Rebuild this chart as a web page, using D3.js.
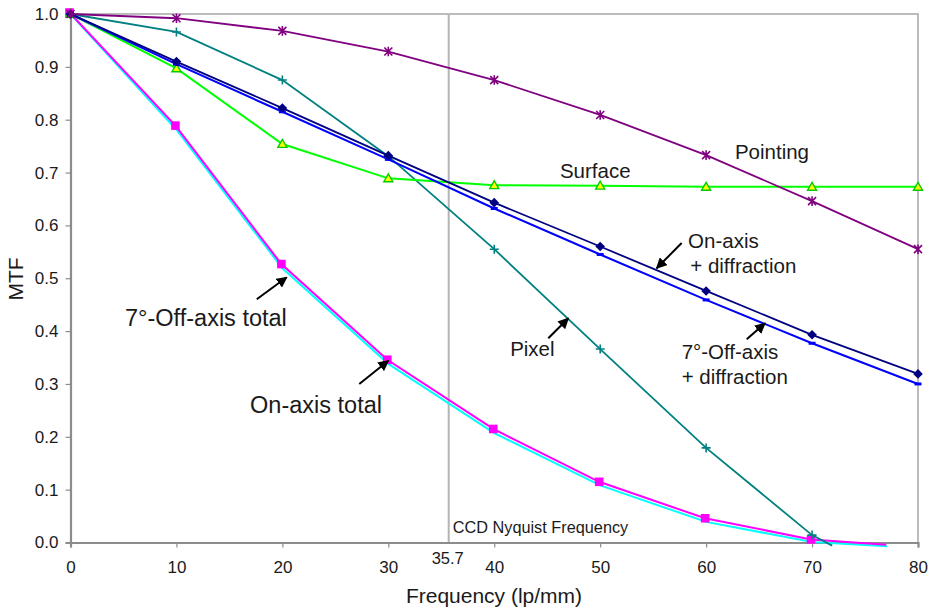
<!DOCTYPE html>
<html>
<head>
<meta charset="utf-8">
<script src="https://cdn.jsdelivr.net/npm/d3@7"></script>
<style>
  body { margin: 0; background: #fff; }
  text { font-family: "Liberation Sans", Arial, sans-serif; fill: #1a1a1a; }
</style>
</head>
<body>
<script>
// frequencies (lp/mm)
const freq = [0, 10, 20, 30, 40, 50, 60, 70, 80];

// MTF values
const pointing   = [1.0, 0.992, 0.968, 0.929, 0.875, 0.809, 0.733, 0.646, 0.555];
const surface    = [1.0, 0.897, 0.754, 0.689, 0.676, 0.675, 0.673, 0.673, 0.673];
const pixel      = [1.0, 0.966, 0.875, 0.731, 0.555, 0.366, 0.179, 0.014];
const onAxisDiff = [1.0, 0.910, 0.822, 0.732, 0.643, 0.560, 0.476, 0.393, 0.319];
const offAxisDiff= [1.0, 0.905, 0.815, 0.725, 0.632, 0.545, 0.459, 0.377, 0.300];
const offAxisTot = [1.0, 0.786, 0.524, 0.343, 0.212, 0.112, 0.043, 0.003];
const onAxisTot  = [1.0, 0.781, 0.519, 0.338, 0.207, 0.108, 0.039, 0.001];

// line ends past the last marker, [freq, mtf]
const pixelTail = [71.9, -0.006];
const totalTail = [77.1, -0.007];

const nyquist = 35.7;
const yTicks = [0, 0.1, 0.2, 0.3, 0.4, 0.5, 0.6, 0.7, 0.8, 0.9, 1.0];

// annotation labels: [text, freq, mtf, big]
const labels = [
  ["Pointing", 62.72, 0.725, false],
  ["Surface", 46.2, 0.689, false],
  ["On-axis", 58.3, 0.557, false],
  ["+ diffraction", 58.5, 0.5105, false],
  ["7°-Off-axis", 57.69, 0.3466, false],
  ["+ diffraction", 57.69, 0.300, false],
  ["Pixel", 41.5, 0.353, false],
  ["7°-Off-axis total", 5.15, 0.4096, true],
  ["On-axis total", 16.95, 0.245, true]
];
// arrows: [fromFreq, fromMtf, toFreq, toMtf]
const arrows = [
  [57.69, 0.5667, 55.33, 0.5188],
  [63.83, 0.3845, 65.56, 0.4148],
  [45.10, 0.3864, 46.99, 0.4242],
  [17.58, 0.4602, 20.41, 0.5018],
  [27.26, 0.2999, 30.00, 0.3440]
];

const width = 933, height = 612;
const x = d3.scaleLinear().domain([0, 80]).range([70.5, 918]);
const y = d3.scaleLinear().domain([0, 1]).range([542.5, 14]);

const svg = d3.select("body").append("svg")
  .attr("width", width).attr("height", height);

const defs = svg.append("defs");
defs.append("marker")
  .attr("id", "arrow")
  .attr("viewBox", "0 0 10 10")
  .attr("refX", 9).attr("refY", 5)
  .attr("markerWidth", 5.5).attr("markerHeight", 5.5)
  .attr("orient", "auto")
  .append("path").attr("d", "M0,0L10,5L0,10z").attr("fill", "#000");

// plot frame (top and right)
svg.append("path")
  .attr("d", `M${x(0)},${y(1)}H${x(80)}V${y(0)}`)
  .attr("fill", "none").attr("stroke", "#a6a6a6").attr("stroke-width", 1.5);

// Nyquist line
svg.append("line")
  .attr("x1", x(nyquist)).attr("x2", x(nyquist))
  .attr("y1", y(1)).attr("y2", y(0))
  .attr("stroke", "#b4b4b4").attr("stroke-width", 2);

svg.append("text")
  .attr("x", x(nyquist) + 4).attr("y", y(0) - 9.5)
  .attr("font-size", 16.3)
  .text("CCD Nyquist Frequency");

// axes
const xAxis = svg.append("g")
  .attr("transform", `translate(0,${y(0)})`)
  .call(d3.axisBottom(x).tickValues(freq).tickSize(5).tickPadding(13).tickFormat(d3.format("d")));
const yAxis = svg.append("g")
  .attr("transform", `translate(${x(0)},0)`)
  .call(d3.axisLeft(y).tickValues(yTicks).tickSize(5).tickPadding(7).tickFormat(d3.format(".1f")));

[xAxis, yAxis].forEach(g => {
  g.select(".domain").attr("stroke", "#8c8c8c").attr("stroke-width", 2.2);
  g.selectAll(".tick line").attr("stroke", "#8c8c8c").attr("stroke-width", 1.2);
  g.selectAll(".tick text").attr("font-size", 17)
    .attr("font-family", '"Liberation Sans", Arial, sans-serif').attr("fill", "#222");
});

svg.append("text")
  .attr("x", x(nyquist) - 1).attr("y", 564)
  .attr("text-anchor", "middle").attr("font-size", 16.5)
  .text("35.7");

svg.append("text")
  .attr("x", 494).attr("y", 603)
  .attr("text-anchor", "middle").attr("font-size", 21)
  .text("Frequency (lp/mm)");

svg.append("text")
  .attr("transform", "translate(23,279) rotate(-90)")
  .attr("text-anchor", "middle").attr("font-size", 21)
  .text("MTF");

// marker shapes
const star = s => `M${-s},${-s}L${s},${s}M${-s},${s}L${s},${-s}M0,${-s * 1.2}L0,${s * 1.2}`;
const plus = s => `M${-s},0L${s},0M0,${-s}L0,${s}`;
const tri = s => `M0,${-s}L${s},${s * 0.75}L${-s},${s * 0.75}Z`;
const diamond = s => `M0,${-s}L${s},0L0,${s}L${-s},0Z`;
const square = s => `M${-s},${-s}H${s}V${s}H${-s}Z`;
const dash = s => `M${-s},0H${s}`;

const series = [
  { vals: onAxisTot, tail: totalTail, color: "#00ffff", w: 2, mark: null },
  { vals: offAxisTot, tail: totalTail, color: "#ff00ff", w: 2, mark: square(4.3), fill: "#ff00ff", stroke: "none", dx: -1, dy: -1.5 },
  { vals: pixel, tail: pixelTail, color: "#008080", w: 1.8, mark: plus(4.5), fill: "none", stroke: "#008080", sw: 1.6 },
  { vals: surface, color: "#00ff00", w: 2, mark: tri(4.5), fill: "#ffff00", stroke: "#00cc00", sw: 1.4 },
  { vals: offAxisDiff, color: "#0000ff", w: 2, mark: dash(3.5), fill: "none", stroke: "#0000ff", sw: 3 },
  { vals: onAxisDiff, color: "#000080", w: 1.8, mark: diamond(4.8), fill: "#000080", stroke: "none" },
  { vals: pointing, color: "#800080", w: 1.8, mark: star(4), fill: "none", stroke: "#800080", sw: 1.6 }
];

const line = d3.line().x(d => x(d[0])).y(d => y(d[1]));

series.forEach(s => {
  const pts = s.vals.map((v, i) => [freq[i], v]);
  const linePts = s.tail ? pts.concat([s.tail]) : pts;
  const dx = s.dx || 0, dy = s.dy || 0;
  const g = svg.append("g").attr("transform", `translate(${dx},${dy})`);
  g.append("path")
    .datum(linePts)
    .attr("d", line)
    .attr("fill", "none")
    .attr("stroke", s.color)
    .attr("stroke-width", s.w);
  if (s.mark) {
    g.selectAll("path.m")
      .data(pts)
      .join("path")
      .attr("class", "m")
      .attr("transform", d => `translate(${x(d[0])},${y(d[1])})`)
      .attr("d", s.mark)
      .attr("fill", s.fill)
      .attr("stroke", s.stroke)
      .attr("stroke-width", s.sw || 0);
  }
});

// annotations
svg.append("g").selectAll("text")
  .data(labels)
  .join("text")
  .attr("x", d => x(d[1]))
  .attr("y", d => y(d[2]))
  .attr("font-size", d => d[3] ? 23.5 : 20.5)
  .text(d => d[0]);

svg.append("g").selectAll("line")
  .data(arrows)
  .join("line")
  .attr("x1", d => x(d[0])).attr("y1", d => y(d[1]))
  .attr("x2", d => x(d[2])).attr("y2", d => y(d[3]))
  .attr("stroke", "#000").attr("stroke-width", 2)
  .attr("marker-end", "url(#arrow)");
</script>
</body>
</html>
